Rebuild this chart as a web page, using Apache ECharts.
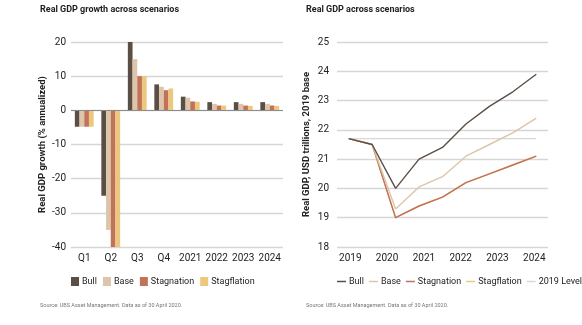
<!DOCTYPE html>
<html><head><meta charset="utf-8">
<script src="https://cdn.jsdelivr.net/npm/echarts@6/dist/echarts.min.js"></script>
<style>html,body{margin:0;padding:0;background:#fff}#c{width:582px;height:325px}</style>
</head><body><div id="c"></div>
<script>
// ---- Left chart data: Real GDP growth (% annualized)
const growthCategories = ['Q1','Q2','Q3','Q4','2021','2022','2023','2024'];
const growthBull        = [-4.8, -25, 20, 7.6, 4.0, 2.4, 2.4, 2.4];
const growthBase        = [-4.8, -35, 15, 6.9, 3.7, 1.9, 1.9, 1.9];
const growthStagnation  = [-4.8, -40, 10, 5.9, 2.6, 1.4, 1.4, 1.4];
const growthStagflation = [-4.8, -40, 10, 6.4, 2.5, 1.4, 1.3, 1.3];
const growthTicks = [-40, -30, -20, -10, 0, 10, 20];

// ---- Right chart data: Real GDP, USD trillions (2019 base)
const gdpPeriods     = ['p0','p1','p2','p3','p4','p5','p6','p7','p8'];
const gdpBull        = [21.7, 21.5, 20.0, 21.0, 21.4, 22.2, 22.8, 23.3, 23.9];
const gdpBase        = [21.7, 21.5, 19.3, 20.05, 20.4, 21.1, 21.5, 21.9, 22.4];
const gdpStagnation  = [21.7, 21.5, 19.0, 19.4, 19.7, 20.2, 20.5, 20.8, 21.1];
const gdpStagflation = [21.7, 21.5, 19.0, 19.4, 19.7, 20.2, 20.5, 20.8, 21.1];
const gdpLevel2019   = [21.7, 21.7, 21.7, 21.7, 21.7, 21.7, 21.7, 21.7, 21.7];
const gdpYearLabels  = [2019, 2020, 2021, 2022, 2023, 2024];

const colors = {Bull:'#5b4f45', Base:'#dcc5ab', Stagnation:'#c1735a', Stagflation:'#ecc87c', Level:'#d8d8d8'};
const FONT = '"Liberation Sans Narrow","Roboto","Liberation Sans",sans-serif';
const txt = '#222';

const chart = echarts.init(document.getElementById('c'), null, {renderer:'canvas'});

function bar(name, data, extra){
  return Object.assign({name, type:'bar', xAxisIndex:0, yAxisIndex:0, data, barGap:'0%', barCategoryGap:'29%',
    itemStyle:{color:colors[name]}, animation:false}, extra || {});
}
function line(name, data, color, z){
  return {name, type:'line', xAxisIndex:1, yAxisIndex:1, data, symbol:'none', showSymbol:false,
    lineStyle:{color, width:1.4}, itemStyle:{color}, z, animation:false};
}

chart.setOption({
  animation:false,
  textStyle:{fontFamily:FONT},
  title:[
    {text:'Real GDP growth across scenarios', left:40, top:5, padding:0, textStyle:{fontFamily:FONT, fontSize:9, fontWeight:'bold', color:txt}},
    {text:'Real GDP across scenarios', left:306, top:5, padding:0, textStyle:{fontFamily:FONT, fontSize:9, fontWeight:'bold', color:txt}},
    {text:'Source: UBS Asset Management. Data as of 30 April 2020.', left:40, top:303, padding:0, textStyle:{fontFamily:FONT, fontSize:5.5, fontWeight:'normal', color:'#777'}},
    {text:'Source: UBS Asset Management. Data as of 30 April 2020.', left:306, top:303, padding:0, textStyle:{fontFamily:FONT, fontSize:5.5, fontWeight:'normal', color:'#777'}}
  ],
  legend:[
    {data:['Bull','Base','Stagnation','Stagflation'], left:71, top:277, padding:0, icon:'rect', itemWidth:8, itemHeight:9, itemGap:6,
     textStyle:{fontFamily:FONT, fontSize:9, color:txt, padding:[0,0,0,-2]}, selectedMode:false},
    {data:['Bull','Base','Stagnation','Stagflation','2019 Level'], left:337, top:277, width:300, padding:0, icon:'rect', itemWidth:9, itemHeight:1.5, itemGap:5,
     textStyle:{fontFamily:FONT, fontSize:9, color:txt, padding:[0,0,0,-2]}, selectedMode:false}
  ],
  grid:[
    {left:71, right:299, top:42, height:205, containLabel:false},
    {left:337, right:34, top:42, height:205, containLabel:false}
  ],
  xAxis:[
    {type:'category', gridIndex:0, data:growthCategories, position:'bottom',
     axisLine:{show:false, onZero:false}, axisTick:{show:false},
     axisLabel:{interval:0, color:txt, fontSize:10, fontFamily:FONT, margin:6}},
    {type:'category', gridIndex:1, data:gdpPeriods, boundaryGap:true,
     axisLine:{show:false}, axisTick:{show:false}, axisLabel:{show:false}},
    {type:'value', gridIndex:1, min:2018.639, max:2024.373, position:'bottom',
     axisLine:{show:false}, axisTick:{show:false}, splitLine:{show:false},
     axisLabel:{customValues:gdpYearLabels, color:txt, fontSize:10, fontFamily:FONT, margin:6, formatter:v=>String(Math.round(v))}}
  ],
  yAxis:[
    {type:'value', gridIndex:0, min:-40, max:20, interval:10,
     name:'Real GDP growth (% annualized)', nameLocation:'middle', nameRotate:90, nameGap:20,
     nameTextStyle:{fontFamily:FONT, fontSize:9.5, fontWeight:'bold', color:txt},
     axisLine:{show:false}, axisTick:{show:false},
     axisLabel:{color:txt, fontSize:10, fontFamily:FONT, margin:5},
     splitLine:{lineStyle:{color:'#d6d6d6', width:1.3}}},
    {type:'value', gridIndex:1, min:18, max:25, interval:1,
     name:'Real GDP, USD trillions, 2019 base', nameLocation:'middle', nameRotate:90, nameGap:25,
     nameTextStyle:{fontFamily:FONT, fontSize:9.5, fontWeight:'bold', color:txt},
     axisLine:{show:false}, axisTick:{show:false},
     axisLabel:{color:txt, fontSize:10, fontFamily:FONT, margin:8},
     splitLine:{lineStyle:{color:'#d6d6d6', width:1.3}}}
  ],
  series:[
    bar('Bull', growthBull, {markLine:{silent:true, symbol:'none', label:{show:false}, animation:false,
        lineStyle:{color:'#8c8c8c', width:1.2, type:'solid'}, data:[{yAxis:0}]}}),
    bar('Base', growthBase),
    bar('Stagnation', growthStagnation),
    bar('Stagflation', growthStagflation),
    line('2019 Level', gdpLevel2019, colors.Level, 1),
    line('Stagflation', gdpStagflation, colors.Stagflation, 2),
    line('Stagnation', gdpStagnation, colors.Stagnation, 3),
    line('Base', gdpBase, colors.Base, 4),
    line('Bull', gdpBull, colors.Bull, 5)
  ]
});
</script></body></html>
